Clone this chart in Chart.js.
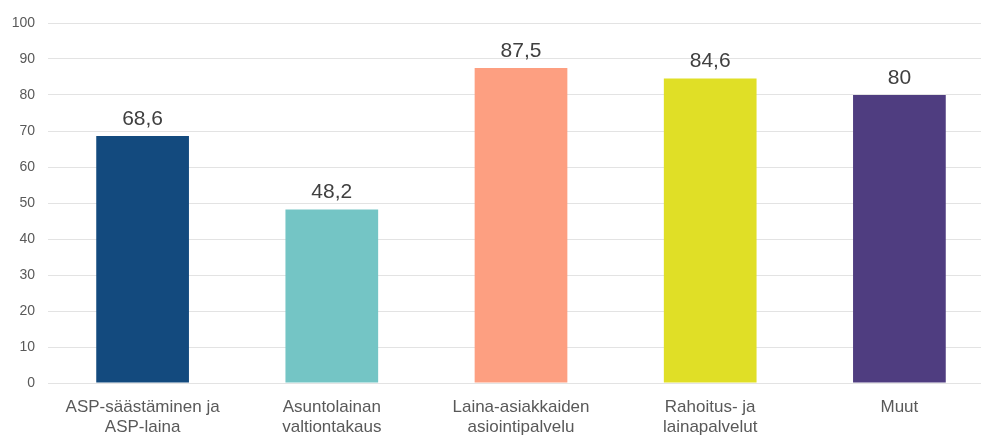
<!DOCTYPE html>
<html>
<head>
<meta charset="utf-8">
<script src="https://cdn.jsdelivr.net/npm/chart.js@4"></script>
<style>
  html, body { margin: 0; padding: 0; background: #ffffff; overflow: hidden; }
  #wrap { width: 981px; height: 435px; overflow: hidden; }
  canvas { display: block; }
</style>
</head>
<body>
<div id="wrap"><canvas id="c" width="1000" height="435"></canvas></div>
<script>
const categories = [
  ["ASP-säästäminen ja", "ASP-laina"],
  ["Asuntolainan", "valtiontakaus"],
  ["Laina-asiakkaiden", "asiointipalvelu"],
  ["Rahoitus- ja", "lainapalvelut"],
  ["Muut"]
];
const values = [68.6, 48.2, 87.5, 84.6, 80];
const barColors = ["#134A7E", "#74C5C5", "#FD9F81", "#E0DF26", "#4F3D80"];
const yTicks = [0, 10, 20, 30, 40, 50, 60, 70, 80, 90, 100];

const fontFamily = "'Liberation Sans', Arial, sans-serif";

// Writes each bar's value above it, decimal comma style
const valueLabels = {
  id: "valueLabels",
  afterDatasetsDraw(chart) {
    const ctx = chart.ctx;
    const meta = chart.getDatasetMeta(0);
    ctx.save();
    ctx.font = "21px " + fontFamily;
    ctx.fillStyle = "#404040";
    ctx.textAlign = "center";
    ctx.textBaseline = "alphabetic";
    meta.data.forEach((bar, i) => {
      const txt = String(values[i]).replace(".", ",");
      ctx.fillText(txt, bar.x, bar.y - 11);
    });
    ctx.restore();
  }
};

new Chart(document.getElementById("c"), {
  type: "bar",
  data: {
    labels: categories,
    datasets: [{
      data: values,
      backgroundColor: barColors,
      borderWidth: 0,
      barPercentage: 0.49,
      categoryPercentage: 1.0
    }]
  },
  options: {
    responsive: false,
    animation: false,
    layout: { padding: { top: 23, right: 6, left: 0, bottom: 0 } },
    plugins: { legend: { display: false }, tooltip: { enabled: false } },
    scales: {
      y: {
        min: 0,
        max: 100,
        afterBuildTicks(scale) { scale.ticks = yTicks.map(v => ({ value: v })); },
        afterFit(scale) { scale.width = 48; },
        border: { display: false },
        grid: { color: "#E3E3E3", lineWidth: 1, drawTicks: false },
        ticks: {
          padding: 13,
          color: "#595959",
          font: { family: fontFamily, size: 14 }
        }
      },
      x: {
        afterFit(scale) { scale.height = 52; },
        border: { display: false },
        grid: { display: false, drawTicks: false },
        ticks: {
          padding: 15,
          color: "#595959",
          maxRotation: 0,
          autoSkip: false,
          font: { family: fontFamily, size: 17, lineHeight: 1.15 }
        }
      }
    }
  },
  plugins: [valueLabels]
});
</script>
</body>
</html>
